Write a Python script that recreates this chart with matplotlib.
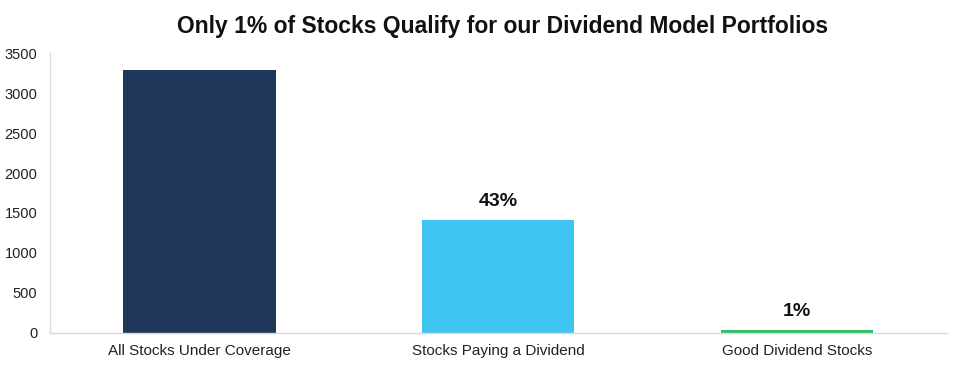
import matplotlib
matplotlib.use("Agg")
import matplotlib.pyplot as plt

categories = ["All Stocks Under Coverage", "Stocks Paying a Dividend", "Good Dividend Stocks"]
values = [3290, 1410, 38]
labels = ["", "43%", "1%"]
colors = ["#1F3759", "#40C4F2", "#2EBF6A"]
yticks = [0, 500, 1000, 1500, 2000, 2500, 3000, 3500]

plt.rcParams['font.family'] = ['Liberation Sans', 'DejaVu Sans']
fig = plt.figure(figsize=(9.6, 3.69), dpi=100)
ax = fig.add_axes([0.052, 0.098, 0.934, 0.758])
x = list(range(len(categories)))
bars = ax.bar(x, values, width=0.51, color=colors)
ax.set_xlim(-0.5, 2.5)
ax.set_ylim(0, 3500)
ax.set_yticks(yticks)
ax.set_xticks(x)
ax.set_xticklabels(categories, fontsize=11, color="#222222")
ax.tick_params(axis='x', length=0, labelsize=11, colors="#222222", pad=8)
ax.tick_params(axis='y', length=0, labelsize=10.5, colors="#222222", pad=9)
for s in ["top", "right"]:
    ax.spines[s].set_visible(False)
for s in ["left", "bottom"]:
    ax.spines[s].set_color("#D9D9D9")
    ax.spines[s].set_linewidth(1.0)
for b, lab in zip(bars, labels):
    if lab:
        ax.annotate(lab, (b.get_x() + b.get_width() / 2, b.get_height()),
                    xytext=(0, 7), textcoords="offset points",
                    ha="center", va="bottom", fontsize=14, fontweight="bold", color="#111111")
fig.text(0.523, 0.927, "Only 1% of Stocks Qualify for our Dividend Model Portfolios",
         ha="center", va="center", fontsize=16.5, fontweight="bold", color="#111111")
fig.savefig("out.png", dpi=100)
